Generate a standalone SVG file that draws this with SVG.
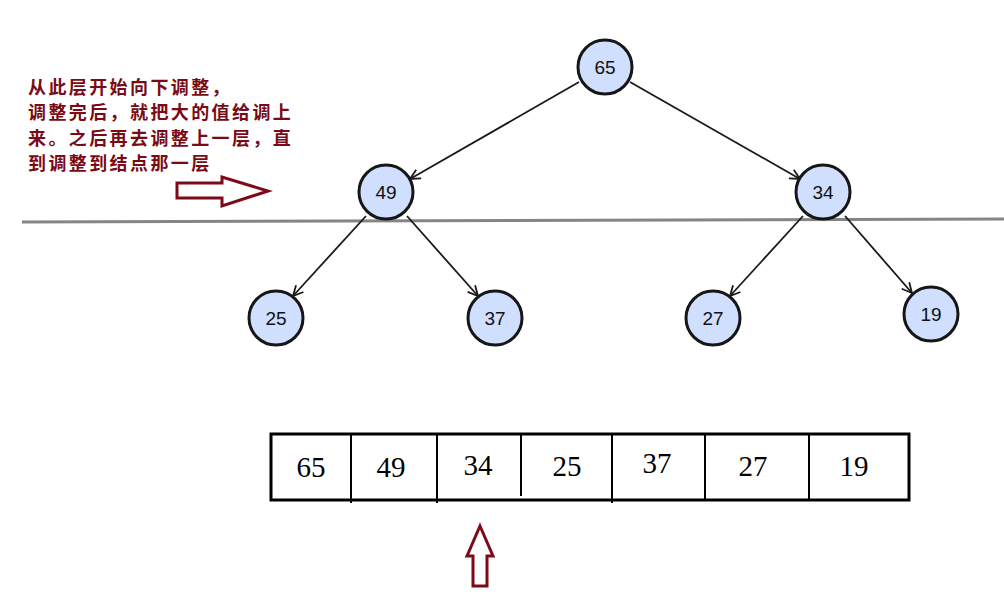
<svg xmlns="http://www.w3.org/2000/svg" width="1004" height="615" viewBox="0 0 1004 615">
<style>
.node circle{fill:#cfdffd;stroke:#161616;stroke-width:3}
.node text{font-family:"Liberation Sans",Arial,sans-serif;font-size:19px;fill:#111;text-anchor:middle}
.edge{stroke:#1a1a1a;stroke-width:1.8;fill:none;marker-end:url(#ah)}
.cell{font-family:"Liberation Serif","Times New Roman",serif;font-size:29px;fill:#000;text-anchor:middle}
.note{font-family:"Noto Sans CJK SC",sans-serif;font-size:18px;font-weight:bold;fill:#7a0a14;letter-spacing:2.4px}
.bigarrow{fill:#fff;stroke:#7d0a18;stroke-width:3}
</style>
<defs>
<marker id="ah" viewBox="0 0 12 12" refX="11" refY="6" markerWidth="12" markerHeight="12" markerUnits="userSpaceOnUse" orient="auto">
<path d="M1,1 L11,6 L1,11" fill="none" stroke="#1a1a1a" stroke-width="1.8"/>
</marker>
</defs>
<rect width="1004" height="615" fill="#fff"/>
<line x1="22" y1="222" x2="1004" y2="219" stroke="#858585" stroke-width="3"/>
<g id="connectors">
<line class="edge" x1="579" y1="82" x2="410" y2="179"/>
<line class="edge" x1="630" y1="82" x2="800" y2="179"/>
<line class="edge" x1="366" y1="216" x2="293" y2="296"/>
<line class="edge" x1="407" y1="216" x2="478" y2="296"/>
<line class="edge" x1="803" y1="216" x2="730" y2="296"/>
<line class="edge" x1="845" y1="216" x2="912" y2="293"/>
</g>
<g id="n65" class="node"><circle cx="605" cy="67" r="27"/><text x="605" y="74">65</text></g>
<g id="n49" class="node"><circle cx="386" cy="192" r="27"/><text x="386" y="199">49</text></g>
<g id="n34" class="node"><circle cx="823" cy="192" r="27"/><text x="823" y="199">34</text></g>
<g id="n25" class="node"><circle cx="276" cy="318" r="27"/><text x="276" y="325">25</text></g>
<g id="n37" class="node"><circle cx="495" cy="318" r="27"/><text x="495" y="325">37</text></g>
<g id="n27" class="node"><circle cx="713" cy="318" r="27"/><text x="713" y="325">27</text></g>
<g id="n19" class="node"><circle cx="931" cy="314" r="27"/><text x="931" y="321">19</text></g>
<g id="note">
<text class="note" x="28" y="94">从此层开始向下调整，</text>
<text class="note" x="28" y="119">调整完后，就把大的值给调上</text>
<text class="note" x="28" y="145">来。之后再去调整上一层，直</text>
<text class="note" x="28" y="170">到调整到结点那一层</text>
</g>
<polygon id="arrow-right" class="bigarrow" points="177,183 222,183 222,177 268,191 222,206 222,198 177,198"/>
<g id="array">
<rect x="271" y="434" width="638" height="66" fill="none" stroke="#000" stroke-width="3"/>
<g stroke="#000" stroke-width="2">
<line x1="351" y1="434" x2="351" y2="503"/>
<line x1="437" y1="434" x2="437" y2="503"/>
<line x1="521" y1="434" x2="521" y2="496"/>
<line x1="612" y1="434" x2="612" y2="503"/>
<line x1="705" y1="434" x2="705" y2="500"/>
<line x1="809" y1="434" x2="809" y2="500"/>
</g>
<text class="cell" x="311" y="477">65</text>
<text class="cell" x="391" y="477">49</text>
<text class="cell" x="478" y="475">34</text>
<text class="cell" x="567" y="476">25</text>
<text class="cell" x="657" y="473">37</text>
<text class="cell" x="753" y="476">27</text>
<text class="cell" x="854" y="476">19</text>
</g>
<polygon id="arrow-up" class="bigarrow" points="480,526 493,556 487,556 487,586 473,586 473,556 467,556"/>
</svg>
